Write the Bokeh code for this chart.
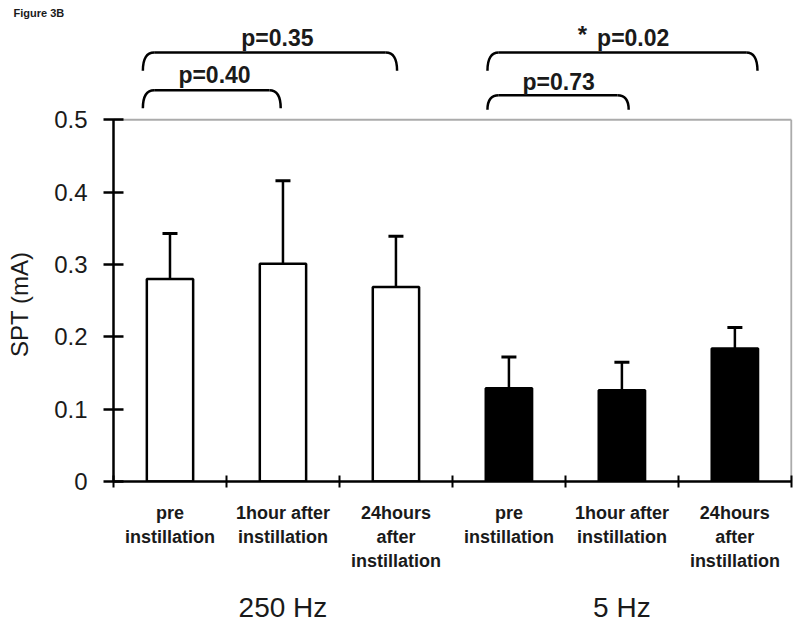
from bokeh.plotting import figure
from bokeh.models import Range1d, FixedTicker, LinearAxis, Whisker, ColumnDataSource, TeeHead
from bokeh.core.properties import value
from bokeh.embed import file_html
from bokeh.resources import INLINE

# ---- data ----
categories = ["pre\ninstillation", "1hour after\ninstillation", "24hours\nafter\ninstillation",
              "pre\ninstillation", "1hour after\ninstillation", "24hours\nafter\ninstillation"]
groups = ["250 Hz", "5 Hz"]
means = [0.280, 0.301, 0.269, 0.129, 0.126, 0.184]
errors = [0.063, 0.115, 0.070, 0.043, 0.039, 0.029]
bar_fill = ["white", "white", "white", "black", "black", "black"]
y_ticks = [0, 0.1, 0.2, 0.3, 0.4, 0.5]
y_tick_labels = ["0", "0.1", "0.2", "0.3", "0.4", "0.5"]

# comparison annotations (p-values)
p_texts = ["p=0.40", "p=0.35", "p=0.73", "p=0.02"]
br_x0 = [-0.24, -0.24, 2.81, 2.81]
br_x1 = [0.98, 2.01, 4.06, 5.20]
br_top = [0.541, 0.593, 0.534, 0.593]
br_drop = [0.025, 0.025, 0.020, 0.025]
p_x = [0.394, 0.951, 3.44, 4.10]
p_y = [0.562, 0.613, 0.552, 0.613]
star_x = [3.65]
star_y = [0.618]

FONT = "Liberation Sans"
TXT = "#1a1a1a"
n = len(categories)
centers = list(range(n))
ymax = max(y_ticks)

p = figure(width=800, height=625, output_backend="svg", toolbar_location=None,
           x_range=Range1d(-0.5, n - 0.5 + 0.01), y_range=Range1d(0, 0.6374),
           min_border_left=113, min_border_right=8, min_border_top=20, min_border_bottom=141)
p.outline_line_color = None
p.xgrid.grid_line_color = None
p.ygrid.grid_line_color = None
p.background_fill_color = "white"
p.border_fill_color = "white"

# caption
p.title.text = "Figure 3B"
p.title.align = "left"
p.title.offset = -100
p.title.standoff = 4
p.title.text_font = FONT
p.title.text_font_style = "bold"
p.title.text_font_size = "11px"
p.title.text_color = TXT

# gray frame on top and right
p.segment(x0=[-0.5, n - 0.5], y0=[ymax, 0], x1=[n - 0.5, n - 0.5], y1=[ymax, ymax],
          line_color="#ababab", line_width=2)

# bars
src = ColumnDataSource(dict(x=centers, top=means, fill=bar_fill,
                            upper=[m + e for m, e in zip(means, errors)]))
p.vbar(x="x", top="top", width=0.41, fill_color="fill", line_color="black",
       line_width=2.5, source=src)
w = Whisker(source=src, base="x", lower="top", upper="upper", dimension="height",
            line_color="black", line_width=2.5, lower_head=None,
            upper_head=TeeHead(size=15, line_color="black", line_width=3))
p.add_layout(w)

# x axis (category labels)
xa = p.xaxis[0]
xa.ticker = FixedTicker(ticks=centers, minor_ticks=[c - 0.5 for c in centers] + [n - 0.5])
xa.bounds = (-0.5, n - 0.5)
xa.major_label_overrides = {c: lab for c, lab in zip(centers, categories)}
xa.major_tick_line_color = None
xa.minor_tick_line_color = "black"
xa.minor_tick_line_width = 2
xa.minor_tick_in = 6
xa.minor_tick_out = 6
xa.axis_line_width = 2.5
xa.axis_line_color = "black"
xa.major_label_text_font = FONT
xa.major_label_text_font_style = "bold"
xa.major_label_text_font_size = "18px"
xa.major_label_text_line_height = 1.2
xa.major_label_text_color = TXT
xa.major_label_standoff = 15

# group axis
ga = LinearAxis(ticker=FixedTicker(ticks=[1, 4]),
                major_label_overrides={1: groups[0], 4: groups[1]})
ga.axis_line_color = None
ga.major_tick_line_color = None
ga.minor_tick_line_color = None
ga.major_label_text_font = FONT
ga.major_label_text_font_size = "28px"
ga.major_label_text_color = TXT
ga.major_label_standoff = 12
p.add_layout(ga, "below")

# y axis
ya = p.yaxis[0]
ya.ticker = FixedTicker(ticks=y_ticks)
ya.bounds = (0, ymax)
ya.major_label_overrides = {t: s for t, s in zip(y_ticks, y_tick_labels)}
ya.major_tick_in = 10
ya.major_tick_out = 10
ya.major_tick_line_width = 2.5
ya.minor_tick_line_color = None
ya.axis_line_width = 2.5
ya.axis_line_color = "black"
ya.major_label_text_font = FONT
ya.major_label_text_font_size = "24px"
ya.major_label_text_color = TXT
ya.major_label_standoff = 16
# axis title is centred on the frame; trailing no-break spaces move it to the
# middle of the bounded 0-0.5 axis as in the original
ya.axis_label = "SPT (mA)" + "\u00a0" * 16
ya.axis_label_text_font = FONT
ya.axis_label_text_font_style = "normal"
ya.axis_label_text_font_size = "24px"
ya.axis_label_text_color = TXT
ya.axis_label_standoff = 18

# brackets
r = 0.1
p.segment(x0=[a + r for a in br_x0], x1=[b - r for b in br_x1], y0=br_top, y1=br_top,
          line_color="black", line_width=2.5)
p.quadratic(x0=br_x0, y0=[t - d for t, d in zip(br_top, br_drop)],
            x1=[a + r for a in br_x0], y1=br_top, cx=br_x0, cy=br_top,
            line_color="black", line_width=2.5)
p.quadratic(x0=br_x1, y0=[t - d for t, d in zip(br_top, br_drop)],
            x1=[b - r for b in br_x1], y1=br_top, cx=br_x1, cy=br_top,
            line_color="black", line_width=2.5)
p.text(x=p_x, y=p_y, text=p_texts, text_align="center", text_baseline="alphabetic",
       text_font=value(FONT), text_font_style="bold", text_font_size="23px",
       text_color=TXT)
p.text(x=star_x, y=star_y, text=["*"], text_align="center", text_baseline="alphabetic",
       text_font=value(FONT), text_font_style="bold", text_font_size="24px",
       text_color=TXT)

open("out.html", "w").write(file_html(p, INLINE))
